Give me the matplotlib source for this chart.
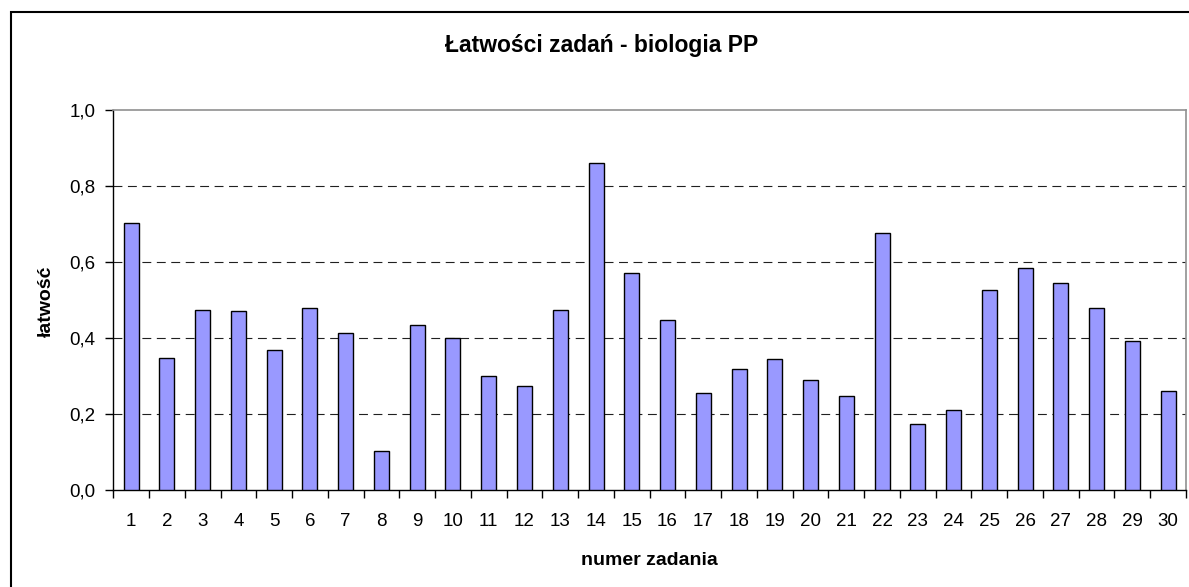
import numpy as np
import matplotlib
matplotlib.use("Agg")
import matplotlib.pyplot as plt
from matplotlib.patches import Rectangle

plt.rcParams['font.family'] = ['Liberation Sans', 'DejaVu Sans']

zadania = list(range(1, 31))
latwosc = [0.702, 0.348, 0.475, 0.471, 0.370, 0.480, 0.414, 0.104, 0.435, 0.401,
           0.300, 0.274, 0.475, 0.860, 0.571, 0.449, 0.256, 0.318, 0.344, 0.291,
           0.248, 0.676, 0.175, 0.212, 0.528, 0.584, 0.545, 0.480, 0.392, 0.261]
yticks = [0.0, 0.2, 0.4, 0.6, 0.8, 1.0]
ytick_labels = ["0,0", "0,2", "0,4", "0,6", "0,8", "1,0"]

W, H = 1189, 587
fig = plt.figure(figsize=(W / 100, H / 100), dpi=100)
ax = fig.add_axes([113.3 / W, 1 - 490 / H, (1186 - 113.3) / W, (490 - 110.3) / H])

x = np.arange(len(zadania))
ax.bar(x, latwosc, width=0.42, color='#9999FF', edgecolor='black', linewidth=1.0, zorder=3)

ax.set_xlim(-0.5, len(zadania) - 0.5)
ax.set_ylim(0, 1.0)

# siatka
for v in yticks[1:-1]:
    ax.axhline(v, color='#202020', linewidth=0.8, linestyle=(0, (8, 5)), zorder=1)

ax.set_yticks(yticks)
ax.set_yticklabels(ytick_labels, fontsize=13.5)
ax.set_xticks(x)
ax.set_xticklabels([str(z) for z in zadania], fontsize=13.5)
ax.set_xticks(np.arange(len(zadania) + 1) - 0.5, minor=True)
ax.tick_params(axis='x', which='major', length=0, pad=16.5)
ax.tick_params(axis='x', which='minor', length=6, width=1, direction='out')
ax.tick_params(axis='y', length=6, width=1, direction='out', pad=7)

for s in ['top', 'right']:
    ax.spines[s].set_color('#909090')
    ax.spines[s].set_linewidth(1.2)
for s in ['left', 'bottom']:
    ax.spines[s].set_color('black')
    ax.spines[s].set_linewidth(1.0)

fig.text(602 / W, 1 - 52.3 / H, "Łatwości zadań - biologia PP", ha='center', va='baseline',
         fontsize=16.5, fontweight='bold')
fig.text(46 / W, 1 - 301.5 / H, "łatwość", ha='center', va='center', rotation=90,
         fontsize=14, fontweight='bold')
fig.text(649 / W, 1 - 565 / H, "numer zadania", ha='center', va='baseline',
         fontsize=14, fontweight='bold')

# ramka wykresu
fig.patches.append(Rectangle((11 / W, -0.05), 1.2, 1 - 12 / H + 0.05, transform=fig.transFigure,
                             fill=False, edgecolor='black', linewidth=1.5))

fig.savefig("out.png", dpi=100)
